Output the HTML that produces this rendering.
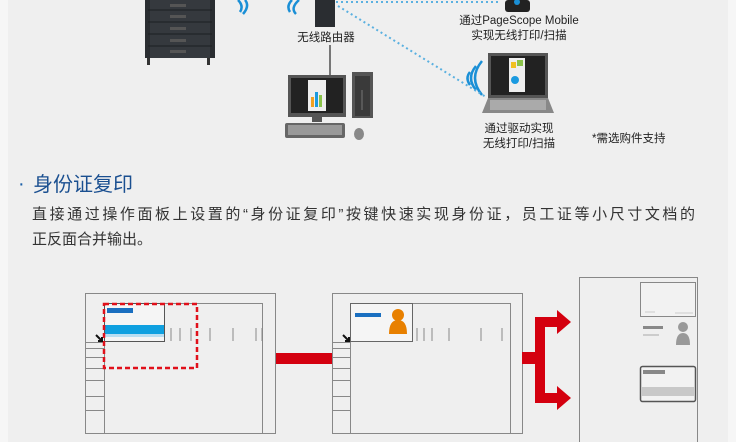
<!DOCTYPE html>
<html><head><meta charset="utf-8"><style>
body{margin:0;width:736px;height:442px;overflow:hidden;background:#f6f6f6;font-family:"Liberation Sans","Noto Sans CJK SC",sans-serif}
</style></head><body>
<svg width="736" height="442" viewBox="0 0 736 442" xmlns="http://www.w3.org/2000/svg" style="position:absolute;left:0;top:0">
<rect x="8" y="0" width="720" height="442" fill="#efefef"/>
<!-- printer -->
<rect x="145" y="0" width="70" height="58" fill="#2a2d31"/>
<rect x="150" y="0" width="60" height="58" fill="#35393e"/>
<g stroke="#1c1e21" stroke-width="1"><line x1="148" y1="10" x2="212" y2="10"/><line x1="148" y1="22" x2="212" y2="22"/><line x1="148" y1="34" x2="212" y2="34"/><line x1="148" y1="46" x2="212" y2="46"/></g>
<g fill="#555"><rect x="170" y="4" width="16" height="3"/><rect x="170" y="15" width="16" height="3"/><rect x="170" y="27" width="16" height="3"/><rect x="170" y="39" width="16" height="3"/><rect x="170" y="50" width="16" height="3"/></g>
<rect x="147" y="58" width="3" height="7" fill="#333"/><rect x="207" y="58" width="3" height="7" fill="#333"/>
<!-- wifi -->
<g fill="none" stroke="#1a8fd6" stroke-width="2.5"><path d="M238 0 Q244 6 240 12"/><path d="M245 0 Q250 6 243 14"/><path d="M292 0 Q286 6 290 12"/><path d="M299 0 Q290 8 296 14"/>
<path d="M470 72 Q465 78 470 85"/><path d="M476 66 Q466 78 476 90"/><path d="M482 61 Q468 78 482 95"/></g>
<!-- router -->
<rect x="315" y="0" width="20" height="27" fill="#2a2d31"/>
<line x1="330" y1="45" x2="330" y2="78" stroke="#777" stroke-width="2"/>
<text x="326" y="41" font-size="11.5" text-anchor="middle" fill="#222">无线路由器</text>
<!-- dotted -->
<g stroke="#5ab0e0" stroke-width="2" stroke-dasharray="2 3" fill="none"><line x1="336" y1="2" x2="500" y2="2"/><line x1="338" y1="6" x2="486" y2="97"/></g>
<!-- phone -->
<rect x="505" y="0" width="25" height="12" rx="3" fill="#222"/><circle cx="517" cy="2" r="3" fill="#1a8fd6"/>
<text x="519" y="24" font-size="11.5" text-anchor="middle" fill="#222">通过PageScope Mobile</text>
<text x="519" y="39" font-size="11.5" text-anchor="middle" fill="#222">实现无线打印/扫描</text>
<!-- laptop -->
<rect x="488" y="53" width="60" height="45" fill="#555"/><rect x="491" y="56" width="54" height="39" fill="#222"/>
<rect x="509" y="58" width="16" height="34" fill="#eee"/><rect x="511" y="62" width="5" height="6" fill="#f0c020"/><rect x="517" y="60" width="6" height="6" fill="#8bc34a"/><circle cx="515" cy="80" r="4" fill="#1a9ae0"/>
<path d="M488 98 L548 98 L554 113 L482 113 Z" fill="#888"/><rect x="490" y="100" width="56" height="10" fill="#aaa"/>
<text x="519" y="132" font-size="11.5" text-anchor="middle" fill="#222">通过驱动实现</text>
<text x="519" y="147" font-size="11.5" text-anchor="middle" fill="#222">无线打印/扫描</text>
<text x="592" y="142" font-size="11.5" fill="#222">*需选购件支持</text>
<!-- PC -->
<rect x="288" y="75" width="58" height="42" fill="#555"/><rect x="291" y="78" width="52" height="35" fill="#222"/>
<rect x="308" y="80" width="18" height="31" fill="#eee"/><rect x="311" y="97" width="3" height="10" fill="#f0a020"/><rect x="315" y="92" width="3" height="15" fill="#1a9ae0"/><rect x="319" y="95" width="3" height="12" fill="#8bc34a"/>
<rect x="312" y="117" width="10" height="5" fill="#555"/>
<rect x="352" y="72" width="21" height="46" fill="#555"/><rect x="355" y="76" width="15" height="40" fill="#3a3a3a"/><line x1="362" y1="90" x2="362" y2="110" stroke="#777"/>
<rect x="285" y="123" width="60" height="15" rx="2" fill="#666"/><rect x="288" y="125" width="54" height="10" fill="#999"/>
<ellipse cx="359" cy="134" rx="5" ry="6" fill="#888"/>
<!-- title -->
<text x="18" y="190" font-size="20" fill="#1a5fa8">·</text>
<text x="33" y="191" font-size="20" fill="#1a4f90">身份证复印</text>
<text x="32" y="219" font-size="15" fill="#333" textLength="663" lengthAdjust="spacing">直接通过操作面板上设置的“身份证复印”按键快速实现身份证，员工证等小尺寸文档的</text>
<text x="32" y="244" font-size="15" fill="#333">正反面合并输出。</text>
<!-- box1 -->
<g fill="none" stroke="#888" stroke-width="1">
<rect x="85.5" y="293.5" width="190" height="140"/><rect x="104.5" y="303.5" width="158" height="130"/>
<line x1="85" y1="342.5" x2="104" y2="342.5"/><line x1="85" y1="348.5" x2="104" y2="348.5"/><line x1="85" y1="357.5" x2="104" y2="357.5"/><line x1="85" y1="368.5" x2="104" y2="368.5"/><line x1="85" y1="380.5" x2="104" y2="380.5"/><line x1="85" y1="396.5" x2="104" y2="396.5"/><line x1="85" y1="410.5" x2="104" y2="410.5"/>
<path d="M171 328v13M180 328v13M191 328v13M210 328v13M233 328v13M256 328v13M262 328v13"/>
<rect x="332.5" y="293.5" width="190" height="140"/><rect x="350.5" y="303.5" width="160" height="130"/>
<line x1="332" y1="342.5" x2="350" y2="342.5"/><line x1="332" y1="348.5" x2="350" y2="348.5"/><line x1="332" y1="357.5" x2="350" y2="357.5"/><line x1="332" y1="368.5" x2="350" y2="368.5"/><line x1="332" y1="380.5" x2="350" y2="380.5"/><line x1="332" y1="396.5" x2="350" y2="396.5"/><line x1="332" y1="410.5" x2="350" y2="410.5"/>
<path d="M417 328v13M424 328v13M432 328v13M449 328v13M481 328v13M502 328v13"/>
<rect x="579.5" y="277.5" width="118" height="170"/>
</g>
<rect x="104.5" y="303.5" width="60" height="38" fill="#f5f5f5" stroke="#555"/>
<rect x="107" y="308" width="26" height="5" fill="#1a6fc0"/><rect x="105" y="325" width="59" height="9" fill="#0fa0e0"/><rect x="105" y="334" width="59" height="3" fill="#b8def2"/>
<rect x="104" y="304" width="93" height="64" fill="none" stroke="#e0101a" stroke-width="2.5" stroke-dasharray="5 3"/>
<path d="M96 335l6 6M98 341h4v-4" stroke="#111" stroke-width="2" fill="none"/>
<rect x="276" y="353" width="56" height="11" fill="#d4000f"/>
<rect x="350.5" y="303.5" width="62" height="38" fill="#f5f5f5" stroke="#666"/>
<rect x="355" y="313" width="26" height="4" fill="#1a6fc0"/>
<circle cx="398" cy="315" r="6" fill="#e88000"/><path d="M389 334 Q389 320 398 320 Q407 320 407 334 Z" fill="#e88000"/>
<path d="M343 335l6 6M345 341h4v-4" stroke="#111" stroke-width="2" fill="none"/>
<!-- red branch arrows -->
<g fill="#d4000f"><rect x="522" y="352" width="16" height="12"/><rect x="535" y="318" width="10" height="84"/>
<rect x="535" y="317" width="24" height="10"/><path d="M557 310 L571 322 L557 334 Z"/>
<rect x="535" y="393" width="24" height="10"/><path d="M557 386 L571 398 L557 410 Z"/></g>
<!-- result -->
<rect x="640.5" y="282.5" width="55" height="34" fill="#f2f2f2" stroke="#888"/>
<line x1="645" y1="312" x2="655" y2="312" stroke="#ccc"/><line x1="675" y1="313" x2="693" y2="313" stroke="#ccc"/>
<rect x="643" y="326" width="20" height="3" fill="#888"/><rect x="643" y="334" width="16" height="2" fill="#ccc"/>
<circle cx="683" cy="327" r="5" fill="#999"/><path d="M676 345 Q676 333 683 333 Q690 333 690 345 Z" fill="#999"/>
<rect x="640.5" y="366.5" width="55" height="35" rx="2" fill="#f2f2f2" stroke="#555" stroke-width="1.5"/>
<rect x="643" y="370" width="22" height="4" fill="#888"/><rect x="641" y="387" width="54" height="9" fill="#c8c8c8"/>
</svg>
</body></html>
